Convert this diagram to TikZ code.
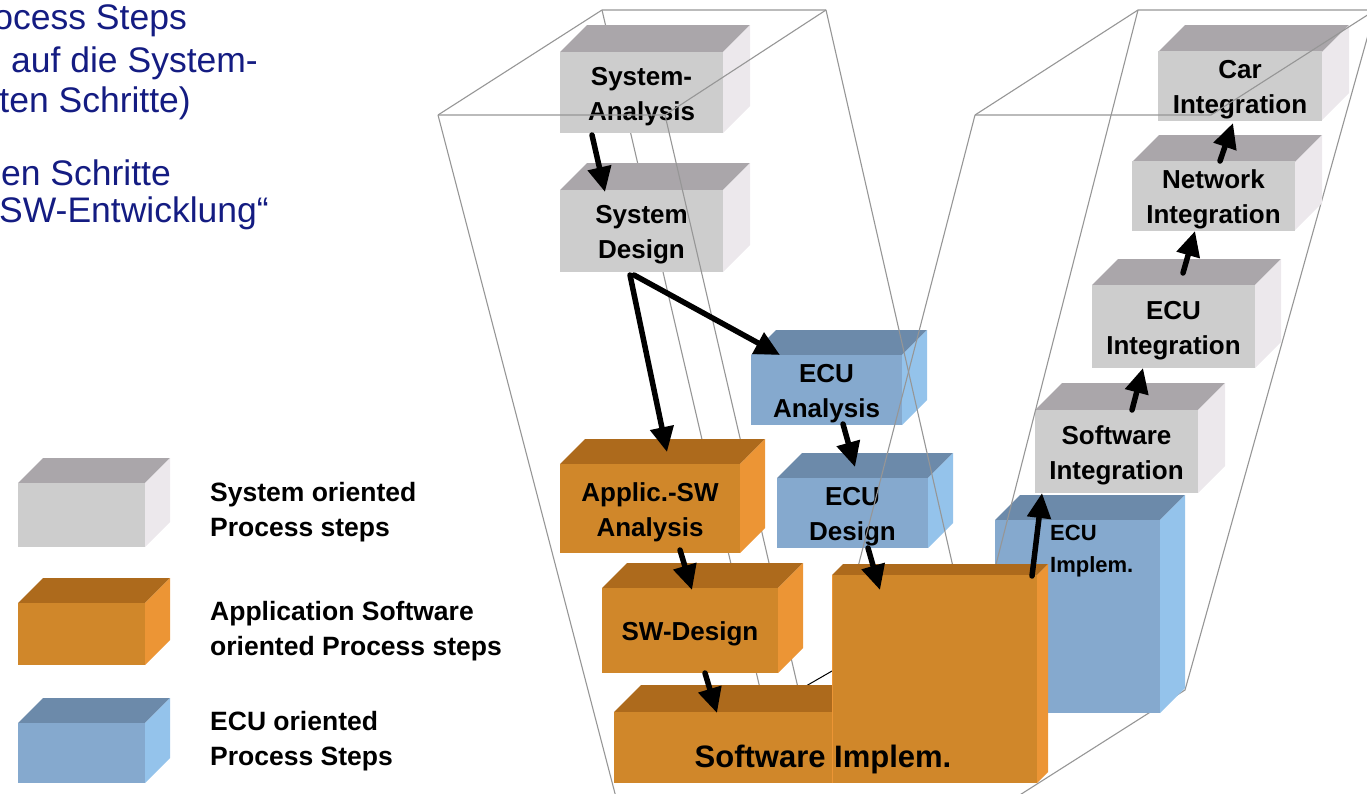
\documentclass[tikz,border=0pt]{standalone}
\usepackage{fontspec}
\setmainfont{Liberation Sans}
\usetikzlibrary{arrows.meta}
\definecolor{gtop}{RGB}{170,166,170}
\definecolor{gfront}{RGB}{205,205,205}
\definecolor{gside}{RGB}{236,232,236}
\definecolor{otop}{RGB}{173,106,28}
\definecolor{ofront}{RGB}{208,135,42}
\definecolor{oside}{RGB}{236,149,53}
\definecolor{btop}{RGB}{108,138,170}
\definecolor{bfront}{RGB}{133,169,206}
\definecolor{bside}{RGB}{148,195,235}
\definecolor{navy}{RGB}{20,28,130}
\definecolor{framegray}{RGB}{150,150,150}
\newcommand\mystrut{\rule[-7.5pt]{0pt}{35pt}}
\newcommand\smstrut{\rule[-6pt]{0pt}{32pt}}
% #1 name, #2 x, #3 y (top of front face), #4 w, #5 h, #6 depth, #7 colour prefix, #8 text
\newcommand\mkcube[8]{%
  \fill[#7top] (#2,#3) -- ++(#6,-#6) -- ++(#4,0) -- ++(-#6,#6) -- cycle;
  \fill[#7side] ({#2+#4},#3) -- ++(#6,-#6) -- ++(0,#5) -- ++(-#6,#6) -- cycle;
  \node[box, fill=#7front, minimum width=#4pt, minimum height=#5pt] (#1) at ({#2+#4/2},{#3+#5/2}) {#8};
}
\begin{document}
\begin{tikzpicture}[x=1pt,y=-1pt,
  box/.style={inner sep=0pt, outer sep=0pt, align=center, font=\fontsize{26}{35}\selectfont\bfseries},
  frameline/.style={draw=framegray, line width=1.1pt},
  arr/.style={line width=5.5pt, line cap=round, -{Triangle[length=25pt,width=23pt]}},
  legtext/.style={inner sep=0pt, align=left, anchor=north west, font=\fontsize{26.5}{35}\selectfont\bfseries},
  navytext/.style={inner sep=0pt, anchor=base east, text=navy, font=\fontsize{35.5}{40}\selectfont}]
\useasboundingbox (0,0) rectangle (1367,793);
\clip (0,0) rectangle (1367,793);

% ---- text at top left
\node[navytext] (t1) at (187,29) {ocess Steps};
\node[navytext] (t2) at (258,72) {auf die System-};
\node[navytext] (t3) at (191,112) {ten Schritte)};
\node[navytext] (t4) at (171,185) {en Schritte};
\node[navytext] (t5) at (269,222) {SW-Entwicklung“};

% ---- legend
\mkcube{lgs}{18}{483}{127}{64}{25}{g}{}
\mkcube{lga}{18}{603}{127}{62}{25}{o}{}
\mkcube{lge}{18}{723}{127}{60}{25}{b}{}
\node[legtext] (l1) at (210,473.5) {\mystrut System oriented\\\mystrut Process steps};
\node[legtext] (l2) at (210,592.5) {\mystrut Application Software\\\mystrut oriented Process steps};
\node[legtext] (l3) at (210,702.5) {\mystrut ECU oriented\\\mystrut Process Steps};

% ---- wire frame, hidden edges
\draw[frameline] (438,115) -- (602,10) -- (826,10);
\draw[frameline] (438,115) -- (618,805);
\draw[frameline] (602,10) -- (765,710);
\draw[frameline] (975,115) -- (1138,10) -- (1380,10);
\draw[frameline] (1375,10) -- (1185,690) -- (1015,798);

% ---- system and ECU boxes
\mkcube{sa}{560}{52}{163}{81}{27}{g}{\mystrut System-\\\mystrut Analysis}
\mkcube{sd}{560}{190}{163}{82}{27}{g}{\mystrut System\\\mystrut Design}
\mkcube{ea}{751}{355}{151}{70}{25}{b}{\mystrut ECU\\\mystrut Analysis}
\mkcube{ed}{777}{478}{151}{70}{25}{b}{\mystrut ECU\\\mystrut Design}
\mkcube{eim}{995}{520}{165}{193}{25}{b}{}
\node[inner sep=0pt, align=left, anchor=north west, font=\fontsize{22}{32}\selectfont\bfseries] (eimt) at (1050,514) {\smstrut ECU\\\smstrut Implem.};
\mkcube{si}{1035}{410}{163}{83}{27}{g}{\mystrut Software\\\mystrut Integration}
\mkcube{ei}{1092}{285}{163}{83}{26}{g}{\mystrut ECU\\\mystrut Integration}
\mkcube{ni}{1132}{162}{163}{68}{27}{g}{\mystrut Network\\\mystrut Integration}
\mkcube{ci}{1158}{52}{164}{68}{27}{g}{\mystrut Car\\\mystrut Integration}

% ---- wire frame, front edges
\draw[frameline] (438,115) -- (665,115) -- (826,10);
\draw[frameline] (665,115) -- (802,705);
\draw[frameline] (826,10) -- (956,580);
\draw[frameline] (975,115) -- (1211,115) -- (1380,7);
\draw[frameline] (975,115) -- (852,590);
\draw[frameline] (1138,10) -- (992,580);
\draw[black, line width=1pt] (806,686) -- (832,671);

% ---- application software boxes
\mkcube{app}{560}{464}{180}{89}{25}{o}{\mystrut Applic.-SW\\\mystrut Analysis}
\mkcube{swd}{602}{588}{176}{85}{25}{o}{\mystrut SW-Design}
\mkcube{low}{614}{712}{218}{71}{27}{o}{}
\mkcube{big}{832}{575}{205}{208}{11}{o}{}
\draw[oside, line width=1pt] (big.north west) -- (big.south west);
\node[inner sep=0pt, anchor=base, font=\fontsize{31}{37}\selectfont\bfseries] (swi) at (823,767) {Software Implem.};

% ---- arrows
\draw[arr] ([xshift=32pt,yshift=-2pt]sa.south west) -- ([xshift=45pt,yshift=-2pt]sd.north west);
\draw[arr] ([xshift=70pt,yshift=-3pt]sd.south west) -- ([xshift=107pt,yshift=12pt]app.north west);
\draw[arr] ([xshift=74pt,yshift=-3pt]sd.south west) -- ([xshift=29pt]ea.north west);
\draw[arr] ([xshift=92pt,yshift=1pt]ea.south west) -- ([xshift=78pt,yshift=11pt]ed.north west);
\draw[arr] ([xshift=120pt,yshift=3pt]app.south west) -- ([xshift=90pt,yshift=-2pt]swd.north west);
\draw[arr] ([xshift=103pt]swd.south west) -- ([xshift=103pt,yshift=-1pt]low.north west);
\draw[arr] ([xshift=91pt]ed.south west) -- ([xshift=48pt,yshift=-15pt]big.north west);
\draw[arr] ([xshift=-5pt,yshift=-1pt]big.north east) -- ([xshift=7pt]si.south west);
\draw[arr] ([xshift=97pt]si.north west) -- ([xshift=51pt]ei.south west);
\draw[arr] ([xshift=91pt,yshift=12pt]ei.north west) -- ([xshift=63pt]ni.south west);
\draw[arr] ([xshift=88pt]ni.north west) -- ([xshift=75pt,yshift=-2pt]ci.south west);
\end{tikzpicture}
\end{document}
